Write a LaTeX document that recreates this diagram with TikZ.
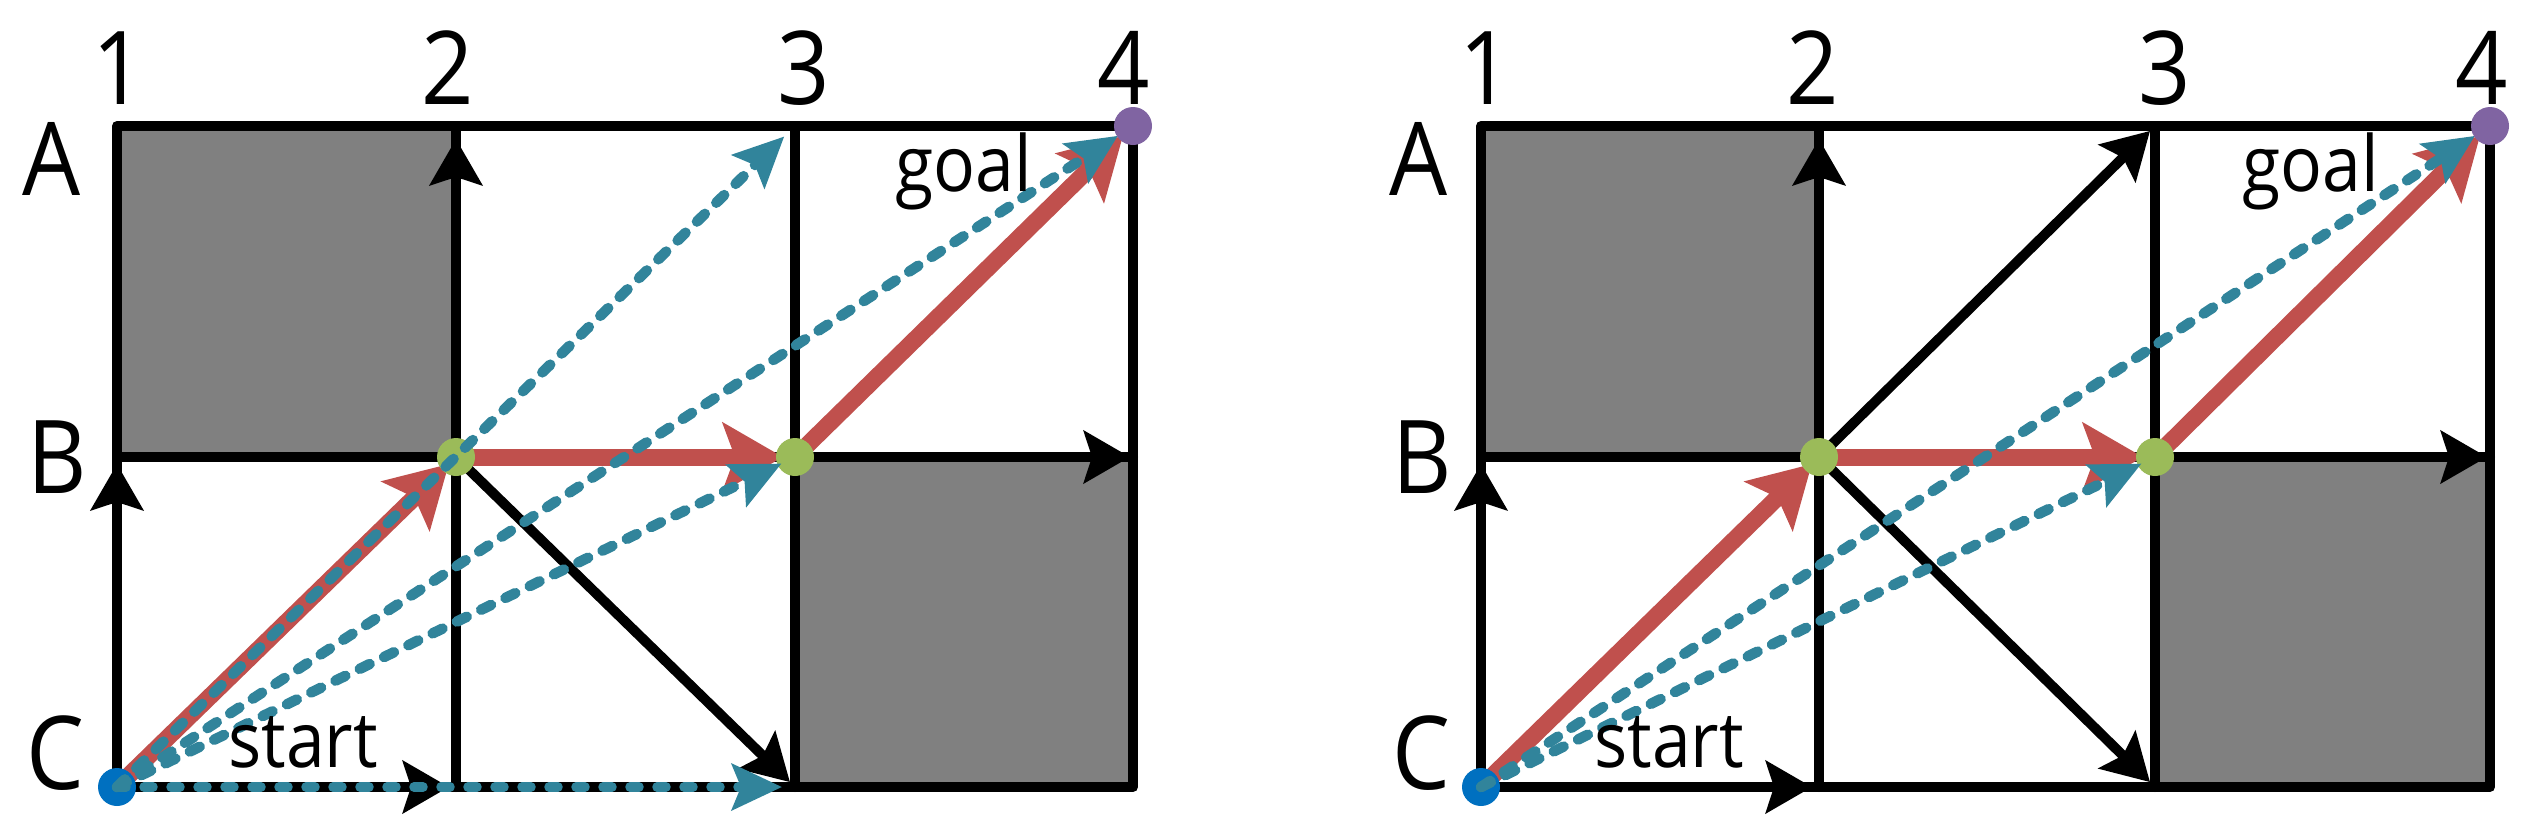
\documentclass[tikz,border=0pt]{standalone}
\usepackage{fontspec}
\setmainfont{Open Sans}[FakeStretch=0.9]
\usetikzlibrary{arrows.meta}
\definecolor{cellgray}{HTML}{808080}
\definecolor{pathred}{HTML}{C0504D}
\definecolor{tealc}{HTML}{31849B}
\definecolor{dotgreen}{HTML}{9BBB59}
\definecolor{dotpurple}{HTML}{8064A2}
\definecolor{dotblue}{HTML}{0070C0}
\begin{document}
\begin{tikzpicture}[x=0.1mm,y=-0.1mm,
  gridline/.style={line width=1mm, line join=round, line cap=round},
  blkarrow/.style={line width=1mm, -{Stealth[length=4.6mm,width=5.2mm,inset=0.8mm]}, shorten >=0.7mm},
  redarrow/.style={pathred, line width=1.7mm, -{Stealth[length=6mm,width=6.8mm,inset=1.2mm]}, shorten >=1mm},
  tealarrow/.style={tealc, line width=1.05mm, line cap=round, dash pattern=on 1.1mm off 1.6mm, -{Stealth[length=5mm,width=4.6mm,inset=0.9mm]}, shorten >=1.5mm},
  tealdots/.style={dash pattern=on 0.9mm off 1.8mm},
  vdot/.style={circle, inner sep=0pt, minimum size=3.8mm},
  lbl/.style={font=\fontsize{29}{30}\selectfont, inner sep=0pt, anchor=base},
  note/.style={font=\fontsize{22}{24}\selectfont, inner sep=0pt, anchor=base}]
\useasboundingbox (0,0) rectangle (2532,833);
\foreach \c/\x in {1/117,2/456,3/795,4/1133}
  \foreach \r/\y in {A/126,B/457,C/787}
    \coordinate (L\r\c) at (\x,\y);
\foreach \c/\x in {1/1481,2/1819,3/2155,4/2490}
  \foreach \r/\y in {A/126,B/457,C/787}
    \coordinate (R\r\c) at (\x,\y);
% gray cells
\fill[cellgray] (LA1) rectangle (LB2);
\fill[cellgray] (LB3) rectangle (LC4);
\fill[cellgray] (RA1) rectangle (RB2);
\fill[cellgray] (RB3) rectangle (RC4);
% grid lines
\foreach \g in {L,R}{
  \draw[gridline] (\g A1) rectangle (\g C4);
  \draw[gridline] (\g A2) -- (\g C2);
  \draw[gridline] (\g A3) -- (\g C3);
  \draw[gridline] (\g B1) -- (\g B4);
  \draw[blkarrow] (\g C1) -- (\g B1);
  \draw[blkarrow, shorten >=1.3mm] (\g B2) -- (\g A2);
  \draw[blkarrow] (\g C1) -- (\g C2);
  \draw[blkarrow, shorten >=0.3mm] (\g B3) -- (\g B4);
  \draw[blkarrow] (\g B2) -- (\g C3);
}
\draw[blkarrow] (RB2) -- (RA3);
% red path
\foreach \g in {L,R}{
  \draw[redarrow] (\g C1) -- (\g B2);
  \draw[redarrow, shorten >=1.2mm] (\g B2) -- (\g B3);
  \draw[redarrow, shorten >=1.4mm] (\g B3) -- (\g A4);
}
% dots
\foreach \g in {L,R}{
  \node[vdot, fill=dotblue] (\g start) at (\g C1) {};
  \node[vdot, fill=dotgreen] (\g m1) at (\g B2) {};
  \node[vdot, fill=dotgreen] (\g m2) at (\g B3) {};
}
% teal candidate arrows
\draw[tealarrow] (LC1) -- (LA3);
\draw[tealarrow, shorten >=1.8mm] (LC1) -- (LA4);
\draw[tealarrow] (LC1) -- (LB3);
\draw[tealarrow, tealdots, line width=0.95mm, shorten >=1.3mm] (LC1) -- (LC3);
\draw[tealarrow, shorten >=1.8mm] (RC1) -- (RA4);
\draw[tealarrow] (RC1) -- (RB3);
% goal dots
\node[vdot, fill=dotpurple] (Lgoal) at (LA4) {};
\node[vdot, fill=dotpurple] (Rgoal) at (RA4) {};
% labels
\node[lbl] (Ln1) at (119,104) {1};
\node[lbl] (Ln2) at (448,104) {2};
\node[lbl] (Ln3) at (804,104) {3};
\node[lbl] (Ln4) at (1124,104) {4};
\node[lbl] (Rn1) at (1486,104) {1};
\node[lbl] (Rn2) at (1813,104) {2};
\node[lbl] (Rn3) at (2165,104) {3};
\node[lbl] (Rn4) at (2482,104) {4};
\node[lbl] (LrA) at (52,195) {A};
\node[lbl] (LrB) at (57,493) {B};
\node[lbl] (LrC) at (55,789) {C};
\node[lbl] (RrA) at (1419,195) {A};
\node[lbl] (RrB) at (1422,493) {B};
\node[lbl] (RrC) at (1421,789) {C};
\node[note] (Lst) at (303,767) {start};
\node[note] (Rst) at (1669,767) {start};
\node[note] (Lgl) at (964,191) {goal};
\node[note] (Rgl) at (2311,191) {goal};
\end{tikzpicture}
\end{document}
